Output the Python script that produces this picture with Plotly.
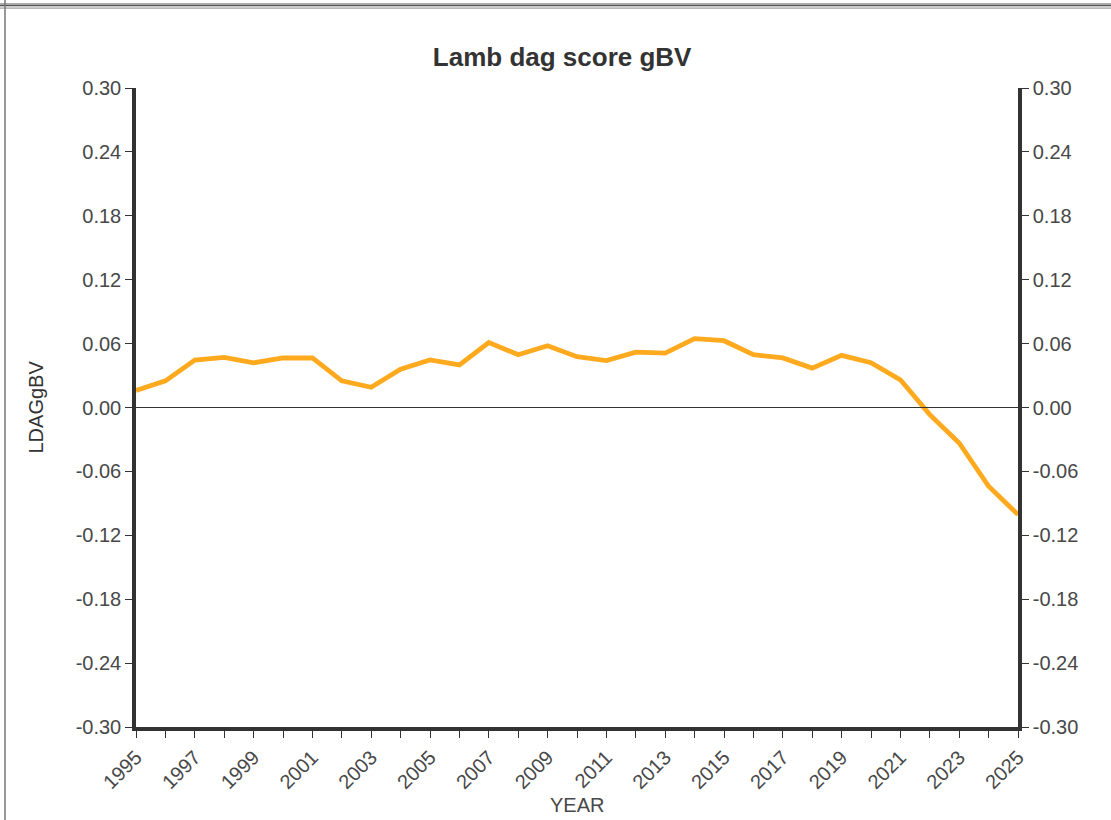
import plotly.graph_objects as go

years = list(range(1995, 2026))
ldag_gbv = [0.016, 0.025, 0.0446, 0.047, 0.042, 0.0465, 0.0465, 0.025, 0.019, 0.036,
            0.0446, 0.040, 0.061, 0.0496, 0.058, 0.0477, 0.044, 0.052, 0.051, 0.0646,
            0.0627, 0.0496, 0.0465, 0.037, 0.049, 0.042, 0.026, -0.0067, -0.0333, -0.074,
            -0.1006]
x_tick_vals = years
x_tick_text = [str(y) if (y - 1995) % 2 == 0 else "" for y in years]
y_tick_vals = [-0.30, -0.24, -0.18, -0.12, -0.06, 0.00, 0.06, 0.12, 0.18, 0.24, 0.30]
y_tick_text = ["%.2f" % v for v in y_tick_vals]

FONT = "Liberation Sans, Arial, sans-serif"
AX = "#333333"

fig = go.Figure()
fig.add_trace(go.Scatter(x=years, y=ldag_gbv, mode="lines",
                         line=dict(color="#FFAA1E", width=4.8), showlegend=False))
# carrier trace so the right-hand axis is drawn
fig.add_trace(go.Scatter(x=years, y=ldag_gbv, mode="lines", yaxis="y2", opacity=0,
                         line=dict(width=0), hoverinfo="skip", showlegend=False))

common_y = dict(range=[-0.30, 0.30], tickvals=y_tick_vals, ticktext=y_tick_text,
                showgrid=False, zeroline=False, showline=True, linecolor=AX, linewidth=3.5,
                ticks="outside", ticklen=7, tickcolor=AX, tickwidth=1,
                tickfont=dict(family=FONT, size=20, color="#484848"))

fig.update_layout(
    width=1111, height=820,
    margin=dict(l=136, r=93, t=88, b=93),
    paper_bgcolor="white", plot_bgcolor="white",
    title=dict(text="<b>Lamb dag score gBV</b>", xref="container", yref="container",
               x=0.506, xanchor="center", y=1 - 57 / 820, yanchor="middle",
               font=dict(family=FONT, size=26, color="#333333")),
    xaxis=dict(range=[1995, 2025], tickvals=x_tick_vals, ticktext=x_tick_text,
               tickangle=-45, showgrid=False, zeroline=False, showline=True,
               linecolor=AX, linewidth=3.5, ticks="outside", ticklen=7, tickcolor=AX,
               tickwidth=1, tickfont=dict(family=FONT, size=20, color="#484848")),
    yaxis=dict(side="left", **common_y),
    yaxis2=dict(side="right", overlaying="y", **common_y),
    annotations=[
        dict(text="LDAGgBV", xref="paper", yref="paper", x=(35 - 136) / 882, y=0.5,
             textangle=-90, showarrow=False, xanchor="center", yanchor="middle",
             font=dict(family=FONT, size=20, color="#333333")),
        dict(text="YEAR", xref="paper", yref="paper", x=0.5, y=(727 - 805) / 639,
             showarrow=False, xanchor="center", yanchor="middle",
             font=dict(family=FONT, size=20, color="#484848")),
    ],
    shapes=[
        dict(type="line", xref="paper", yref="y", x0=0, x1=1, y0=0, y1=0,
             line=dict(color=AX, width=1.2)),
        dict(type="line", xref="paper", yref="paper", x0=-136 / 882, x1=(1111 - 136) / 882,
             y0=(727 - 3.5) / 639, y1=(727 - 3.5) / 639, line=dict(color="#aaaaaa", width=1)),
        dict(type="line", xref="paper", yref="paper", x0=-136 / 882, x1=(1111 - 136) / 882,
             y0=(727 - 5.3) / 639, y1=(727 - 5.3) / 639, line=dict(color="#555555", width=1.5)),
        dict(type="line", xref="paper", yref="paper", x0=-136 / 882, x1=(1111 - 136) / 882,
             y0=(727 - 7) / 639, y1=(727 - 7) / 639, line=dict(color="#999999", width=1)),
        dict(type="line", xref="paper", yref="paper", x0=-136 / 882, x1=(1111 - 136) / 882,
             y0=(727 - 8.5) / 639, y1=(727 - 8.5) / 639, line=dict(color="#bbbbbb", width=1)),
        dict(type="line", xref="paper", yref="paper", x0=(5 - 136) / 882, x1=(5 - 136) / 882,
             y0=(727 - 820) / 639, y1=727 / 639, line=dict(color="#777777", width=1.5)),
    ],
)

fig.write_html("out.html", config={"displayModeBar": False},
               post_script="document.body.style.margin='0';document.body.style.padding='0';"
                           "document.documentElement.style.overflow='hidden';")
